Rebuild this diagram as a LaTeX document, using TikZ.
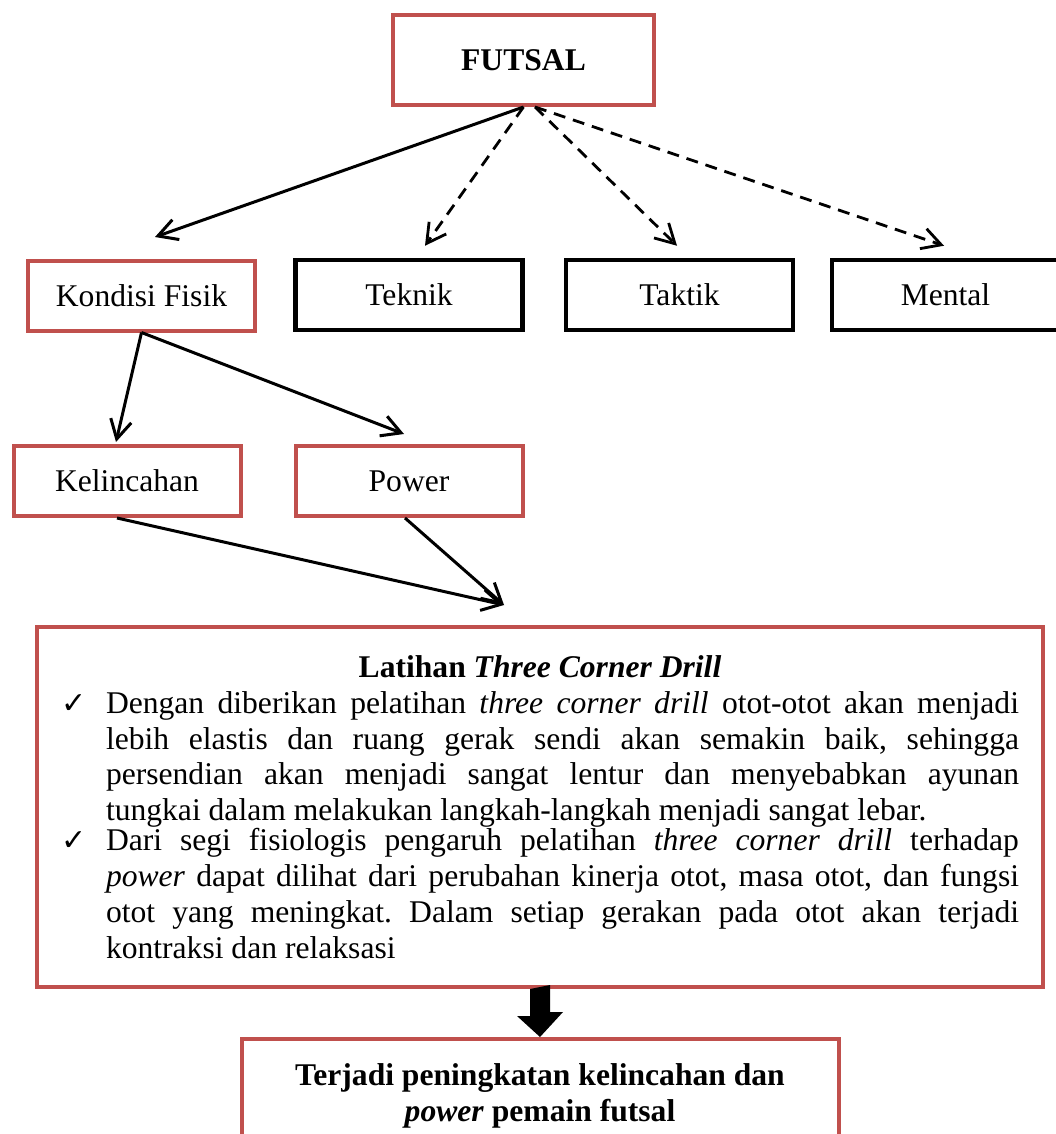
\documentclass[tikz,border=0pt]{standalone}
\usepackage{fontspec}
\setmainfont{Liberation Serif}
\newfontfamily\simbolfont{DejaVu Sans}
\usetikzlibrary{arrows.meta, positioning, calc}
\definecolor{merahkotak}{RGB}{192,80,77}
\newcommand{\ukuran}{\fontsize{31.6}{35.8}\selectfont}
\newcommand{\cek}{{\simbolfont\fontsize{30}{30}\selectfont ✓}}
\newcommand{\butir}[1]{\par\noindent\makebox[45pt][l]{\cek}\parbox[t]{913pt}{\ukuran\frenchspacing\hyphenpenalty=10000\exhyphenpenalty=10000\tolerance=10000 #1}\par}

\begin{document}
\begin{tikzpicture}[x=1pt, y=1pt, font=\ukuran,
        kotakmerah/.style={draw=merahkotak, line width=4pt, minimum width=227pt, minimum height=70pt, inner sep=0pt},
        kotakhitam/.style={draw=black, line width=4.5pt, minimum width=227pt, minimum height=70pt, inner sep=0pt},
        panah/.style={line width=3pt, -{Straight Barb[length=19pt, width=21pt]}},
        panahputus/.style={line width=2.8pt, dash pattern=on 12pt off 8pt, -{Straight Barb[length=19pt, width=21pt]}}]
                \useasboundingbox (0,0) rectangle (1056,-1134);
                \clip (0,0) rectangle (1056,-1134);
                \node[kotakmerah, minimum width=261pt, minimum height=90pt, font=\ukuran\bfseries] (futsal) at (523.5,-60) {FUTSAL};
                \node[kotakmerah] (fisik) at (141.5,-295.5) {Kondisi Fisik};
                \node[kotakhitam] (teknik) at (409,-295) {Teknik};
                \node[kotakhitam] (taktik) at (679.5,-295) {Taktik};
                \node[kotakhitam] (mental) at (945.5,-295) {Mental};
                \node[kotakmerah] (kelincahan) at (127,-481) {Kelincahan};
                \node[kotakmerah] (power) at (409,-481) {Power};
                \node[kotakmerah, minimum width=1006pt, minimum height=360pt, text width=958pt, align=justify] (latihan) at (540,-807) {%
                    {\centering\bfseries Latihan \textit{Three Corner Drill}\par}
                    \butir{Dengan diberikan pelatihan \textit{three corner drill} otot-otot akan menjadi\linebreak
                    lebih elastis dan ruang gerak sendi akan semakin baik, sehingga\linebreak
                    persendian akan menjadi sangat lentur dan menyebabkan ayunan\linebreak
                    tungkai dalam melakukan langkah-langkah menjadi sangat lebar.}
                    \butir{Dari segi fisiologis pengaruh pelatihan \textit{three corner drill} terhadap\linebreak
                    \textit{power} dapat dilihat dari perubahan kinerja otot, masa otot, dan fungsi\linebreak
                    otot yang meningkat. Dalam setiap gerakan pada otot akan terjadi\linebreak
                    kontraksi dan relaksasi}
                    \vspace{8pt}};
                \node[kotakmerah, minimum width=597pt, minimum height=114pt, align=center, font=\ukuran\bfseries] (hasil) at (540,-1096) {Terjadi peningkatan kelincahan dan\\\textit{power} pemain futsal};
                \draw[panah] (futsal.south) -- ($(fisik.north)+(13.5,21.5)$);
                \draw[panahputus] (futsal.south) -- ($(teknik.north)+(16,12)$);
                \draw[panahputus] ([xshift=11.5pt]futsal.south) -- ($(taktik.north)+(-2.5,12)$);
                \draw[panahputus] ([xshift=11.5pt]futsal.south) -- ($(mental.north)+(-1.5,12)$);
                \draw[panah] (fisik.south) -- ($(kelincahan.north)+(-11,2)$);
                \draw[panah] (fisik.south) -- ($(power.north)+(-5,10)$);
                \draw[panah] ([xshift=-10pt]kelincahan.south) -- ($(latihan.north)+(-36,20)$);
                \draw[panah] ([xshift=-4pt]power.south) -- ($(latihan.north)+(-36,20)$);
                \fill ($(latihan.south)+(-10,0)$) -- ++(0,-27) -- ++(-13,0) -- (hasil.north) -- ++(23,25) -- ++(-13,0) -- ++(0,27) -- cycle;
            \end{tikzpicture}
\end{document}
